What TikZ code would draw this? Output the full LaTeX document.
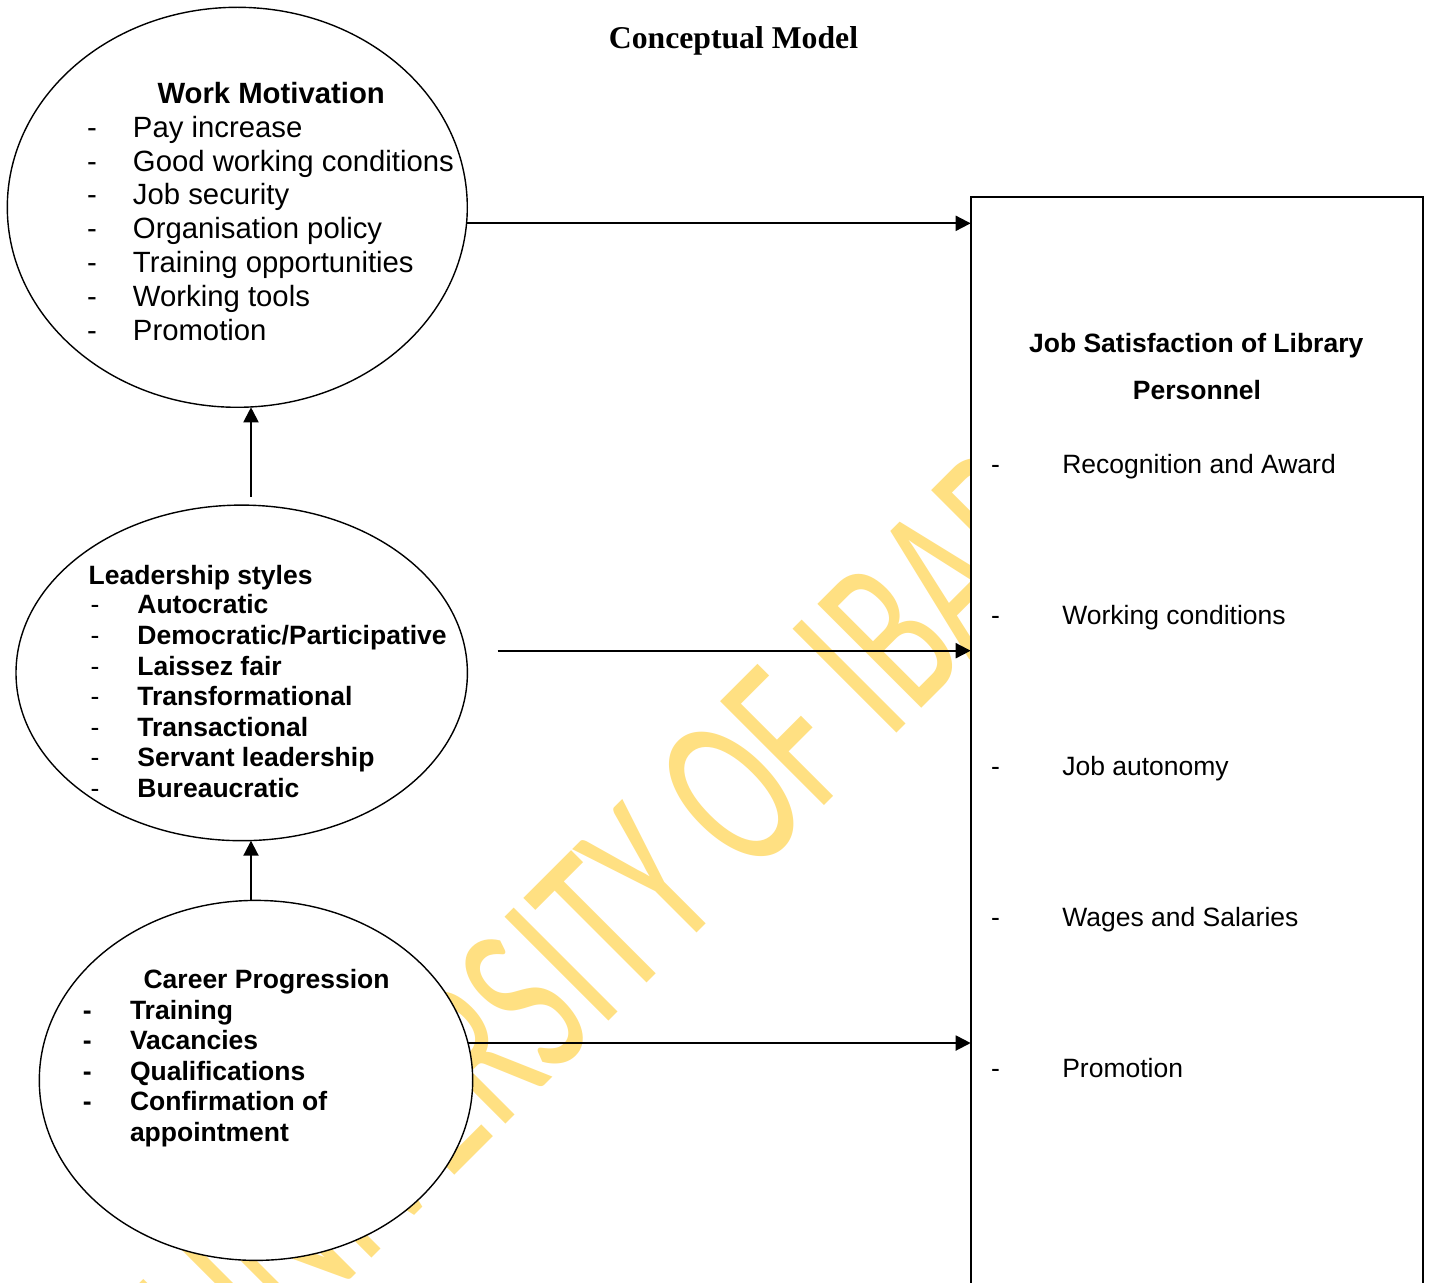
\documentclass[tikz,border=0pt]{standalone}
\usepackage{fontspec}
\setmainfont{Liberation Sans}
\newfontfamily\titlefont{Liberation Serif}
\newfontfamily\markfont{Carlito}
\usetikzlibrary{shapes.geometric,arrows.meta}
\definecolor{markyellow}{RGB}{255,224,130}
\begin{document}
\begin{tikzpicture}[x=0.5pt,y=-0.5pt,
  oval/.style={draw, fill=white, ellipse, line width=0.7pt, inner sep=0pt, outer sep=0pt},
  arr/.style={line width=1pt, -{Triangle[length=7.5pt,width=7.5pt]}},
  ln/.style={anchor=base west, inner sep=0pt, outer sep=0pt},
  big/.style={font=\fontsize{14.65}{17}\selectfont},
  bigb/.style={font=\fontsize{14.65}{17}\selectfont\bfseries},
  mid/.style={font=\fontsize{13.25}{16}\selectfont},
  midb/.style={font=\fontsize{13.25}{16}\selectfont\bfseries},
]
\useasboundingbox[fill=white] (0,0) rectangle (1432,1283);

% diagonal watermark, laid down first so everything else sits on top
\node[ln, rotate=45, xscale=0.636, text=markyellow,
      font=\markfont\fontsize{114.5}{120}\selectfont] (mark) at (231,1399) {UNIVERSITY OF IBADAN};

% title
\node[anchor=base, inner sep=0pt, font=\titlefont\fontsize{15.85}{19}\selectfont\bfseries] (title) at (733.5,48.5) {Conceptual Model};

% the three ovals
\node[oval, minimum width=230pt, minimum height=200pt] (wm) at (237.3,207.3) {};
\node[oval, minimum width=225.7pt, minimum height=167.8pt] (ls) at (241.7,672.9) {};
\node[oval, minimum width=216.7pt, minimum height=180pt] (cp) at (256,1080.4) {};

% outcome box (runs past the lower edge)
\node[draw, fill=white, line width=1pt, inner sep=0pt, outer sep=0pt, anchor=north west,
      minimum width=226.3pt, minimum height=551.5pt] (js) at (970.7,196.7) {};

% Work Motivation
\node[ln, bigb] (wm-head) at (157.5,103.3) {Work Motivation};
\foreach [count=\i from 0] \t in {Pay increase, Good working conditions, Job security,
    Organisation policy, Training opportunities, Working tools, Promotion} {
  \node[ln, big] (wm-d\i) at (87,137.3+33.8*\i) {-};
  \node[ln, big] (wm-i\i) at (133,137.3+33.8*\i) {\t};
}

% Leadership styles
\node[ln, midb] (ls-head) at (88.7,584.3) {Leadership styles};
\foreach [count=\i from 0] \t in {Autocratic, Democratic/Participative, Laissez fair,
    Transformational, Transactional, Servant leadership, Bureaucratic} {
  \node[ln, mid] (ls-d\i) at (90.5,614+30.55*\i) {-};
  \node[ln, midb] (ls-i\i) at (137.4,614+30.55*\i) {\t};
}

% Career Progression
\node[ln, midb] (cp-head) at (143.6,988.3) {Career Progression};
\foreach [count=\i from 0] \t in {Training, Vacancies, Qualifications, Confirmation of} {
  \node[ln, midb] (cp-d\i) at (83,1019.3+30.45*\i) {-};
  \node[ln, midb] (cp-i\i) at (130,1019.3+30.45*\i) {\t};
}
\node[ln, midb] (cp-i4) at (130,1141.1) {appointment};

% Job Satisfaction box text
\node[anchor=base, inner sep=0pt, midb] (js-head1) at (1196.2,352.7) {Job Satisfaction of Library};
\node[anchor=base, inner sep=0pt, midb] (js-head2) at (1197,400) {Personnel};
\foreach [count=\i from 0] \t in {Recognition and Award, Working conditions, Job autonomy,
    Wages and Salaries, Promotion} {
  \node[ln, mid] (js-d\i) at (991.1,474+150.8*\i) {-};
  \node[ln, mid] (js-i\i) at (1062.3,474+150.8*\i) {\t};
}

% connectors
\coordinate (ls-out) at (497.7,650.7);
\coordinate (ls-up) at (251,496.7);
\draw[arr] (wm.-4.8) -- (wm.-4.8 -| js.west);
\draw[arr] (ls-out) -- (ls-out -| js.west);
\draw[arr] (cp.10.5) -- (cp.10.5 -| js.west);
\draw[arr] (ls-up) -- (ls-up |- wm.south);
\draw[arr] (cp.north -| ls-up) -- (ls-up |- ls.south);
\end{tikzpicture}
\end{document}
